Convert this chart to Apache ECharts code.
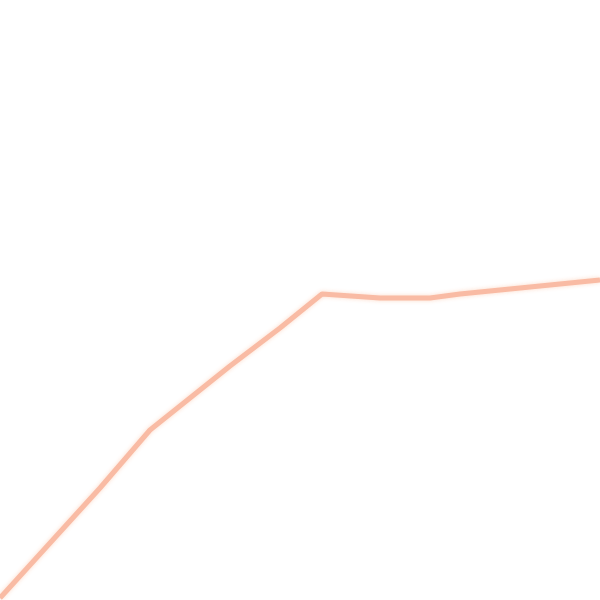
<!DOCTYPE html>
<html>
<head>
<meta charset="utf-8">
<script src="https://cdn.jsdelivr.net/npm/echarts@6/dist/echarts.min.js"></script>
<style>
html, body { margin: 0; padding: 0; background: #ffffff; }
#chart { width: 600px; height: 600px; }
</style>
</head>
<body>
<div id="chart"></div>
<script>
// x positions and values
var xValues = [0, 50, 100, 150, 230, 280, 322, 380, 430, 460, 520, 600];
var yValues = [2, 57, 112, 170, 234, 272, 306, 302, 302, 306, 312, 320];

var seriesData = [];
for (var i = 0; i < xValues.length; i++) {
	seriesData.push([xValues[i], yValues[i]]);
}

var myChart = echarts.init(document.getElementById('chart'));
var option = {
	animation: false,
	grid: { left: 0, right: 0, top: 0, bottom: 0 },
	xAxis: { type: 'value', min: 0, max: 600, show: false },
	yAxis: { type: 'value', min: 0, max: 600, show: false },
	series: [{
		type: 'line',
		data: seriesData,
		symbol: 'none',
		lineStyle: {
			color: '#f9bba4',
			width: 5,
			shadowColor: 'rgba(253,215,195,0.9)',
			shadowBlur: 4
		}
	}]
};
myChart.setOption(option);
</script>
</body>
</html>
